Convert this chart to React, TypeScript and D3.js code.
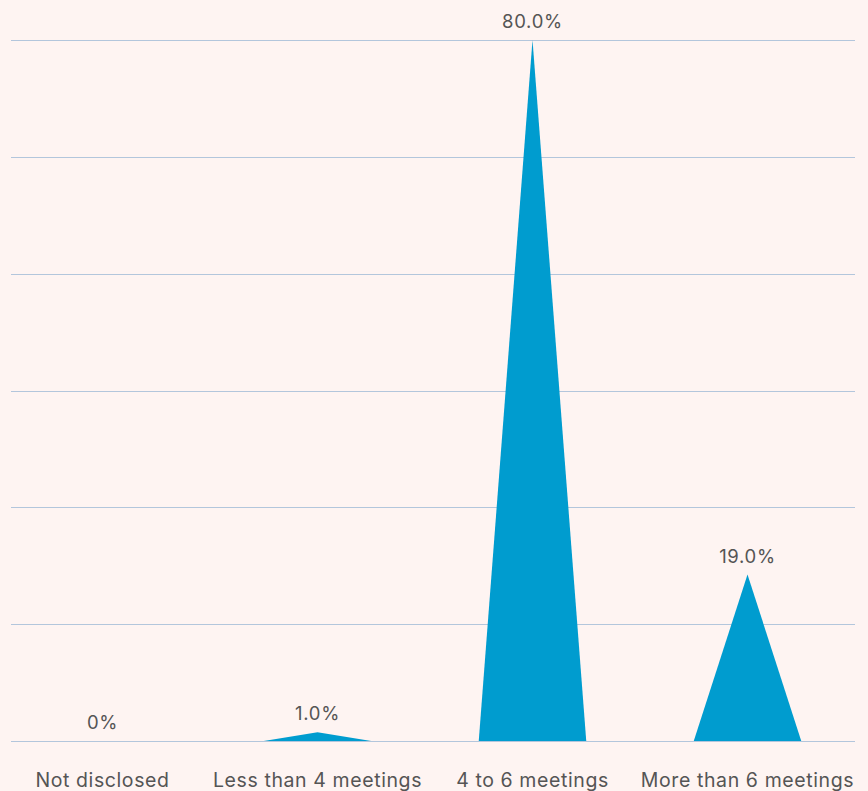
import React from 'react';
import * as d3 from 'd3';

// Chart data
const categories = ['Not disclosed', 'Less than 4 meetings', '4 to 6 meetings', 'More than 6 meetings'];
const values = [0, 1.0, 80.0, 19.0];
const valueLabels = ['0%', '1.0%', '80.0%', '19.0%'];

const width = 868;
const height = 791;
const gridLeft = 11;
const gridRight = 855;
const plotTop = 40;
const plotBottom = 741;

const App: React.FC = () => {
    const x = d3.scalePoint<string>()
        .domain(categories)
        .range([102.5, 747.5]);

    const y = d3.scaleLinear()
        .domain([0, 80])
        .range([plotBottom, plotTop]);

    // 6 equal intervals between 0 and 80
    const gridValues = d3.range(0, 7).map(i => (80 / 6) * i);

    const halfBase = x.step() * 0.25;

    const trianglePath = (cat: string, v: number) => {
        const cx = x(cat) ?? 0;
        const path = d3.path();
        path.moveTo(cx - halfBase, y(0));
        path.lineTo(cx, y(v));
        path.lineTo(cx + halfBase, y(0));
        path.closePath();
        return path.toString();
    };

    const font = "Inter, 'Noto Sans', sans-serif";

    return (
        <svg
            width={width}
            height={height}
            style={{ position: 'absolute', left: 0, top: 0, display: 'block', background: '#fef4f2' }}
        >
            <rect x={0} y={0} width={width} height={height} fill="#fef4f2" />
            {gridValues.map((g, i) => (
                <line
                    key={i}
                    x1={gridLeft}
                    x2={gridRight}
                    y1={Math.round(y(g)) + 0.5}
                    y2={Math.round(y(g)) + 0.5}
                    stroke="#b3c6dc"
                    strokeWidth={1.2}
                />
            ))}
            {categories.map((c, i) => values[i] > 0 && (
                <path key={c} d={trianglePath(c, values[i])} fill="#009ccf" />
            ))}
            {categories.map((c, i) => (
                <text
                    key={'v' + c}
                    x={x(c)}
                    y={y(values[i]) - 12}
                    textAnchor="middle"
                    fontFamily={font}
                    fontSize={18.5}
                    letterSpacing={0.7}
                    fill="#555555"
                >
                    {valueLabels[i]}
                </text>
            ))}
            {categories.map(c => (
                <text
                    key={'c' + c}
                    x={x(c)}
                    y={787}
                    textAnchor="middle"
                    fontFamily={font}
                    fontSize={19.5}
                    letterSpacing={0.6}
                    fill="#555555"
                >
                    {c}
                </text>
            ))}
        </svg>
    );
};

export default App;
